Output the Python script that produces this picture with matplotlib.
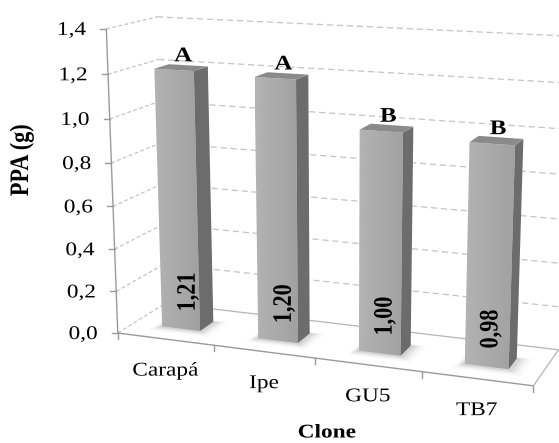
import numpy as np
import matplotlib
matplotlib.use("Agg")
import matplotlib.pyplot as plt
from matplotlib.patches import Polygon
from matplotlib.patheffects import AbstractPathEffect
from matplotlib.transforms import Affine2D

# ---- data -------------------------------------------------------------
clones = ["Carapá", "Ipe", "GU5", "TB7"]
ppa = [1.21, 1.20, 1.00, 0.98]
value_labels = ["1,21", "1,20", "1,00", "0,98"]
groups = ["A", "A", "B", "B"]
y_ticks = [0.0, 0.2, 0.4, 0.6, 0.8, 1.0, 1.2, 1.4]
y_ticklabels = ["0,0", "0,2", "0,4", "0,6", "0,8", "1,0", "1,2", "1,4"]
y_label = "PPA (g)"
x_label = "Clone"

# ---- canvas / style ---------------------------------------------------
W, H = 559, 443
Z_MAX = y_ticks[-1]
N = len(clones)
BAR_HALF_W = 0.2          # bar half width, in category units
BAR_DEPTH = (0.33, 0.63)  # bar extent along the depth axis
FONT = "Liberation Serif"
FS = 14
FS_ROT = 16
FS_LETTER = 15
STRETCH = 1.2
GRID = "#C4C4C4"
AXIS = "#9A9A9A"

# Placement of the 3-D plot box on the canvas:
# world (category, depth, value) -> pixel position
FRAME_ANCHORS = [
    ((0, 0, 0.0), (118, 332)),
    ((0, 0, 0.8), (112, 163)),
    ((0, 0, 1.4), (105, 30)),
    ((0, 1, 0.0), (165, 305)),
    ((0, 1, 1.4), (158, 16)),
    ((1, 0, 0.0), (213, 344)),
    ((2, 0, 0.0), (316, 358)),
    ((3, 0, 0.0), (423, 372)),
    ((4, 0, 0.0), (533, 387)),
    ((4, 1, 0.0), (558, 349)),
    ((4, 1, 1.4), (570, 36)),
]


def fit_camera(anchors):
    rows, rhs = [], []
    for (X, Y, Z), (u, v) in anchors:
        rows.append([X, Y, Z, 1, 0, 0, 0, 0, -u * X, -u * Y, -u * Z]); rhs.append(u)
        rows.append([0, 0, 0, 0, X, Y, Z, 1, -v * X, -v * Y, -v * Z]); rhs.append(v)
    p, *_ = np.linalg.lstsq(np.array(rows, float), np.array(rhs, float), rcond=None)
    return np.append(p, 1.0).reshape(3, 4)


P = fit_camera(FRAME_ANCHORS)


def project(pts):
    pts = np.atleast_2d(np.asarray(pts, float))
    h = np.c_[pts, np.ones(len(pts))] @ P.T
    return h[:, :2] / h[:, 2:3]


class HStretch(AbstractPathEffect):
    """Widen glyphs horizontally about the text anchor."""

    def __init__(self, text, sx):
        super().__init__()
        self.text, self.sx = text, sx

    def draw_path(self, renderer, gc, tpath, affine, rgbFace=None):
        ax_, _ = self.text.get_transform().transform(self.text.get_position())
        t = Affine2D().translate(-ax_, 0).scale(self.sx, 1.0).translate(ax_, 0)
        renderer.draw_path(gc, tpath, affine + t, rgbFace)


fig = plt.figure(figsize=(W / 100, H / 100), dpi=100)
ax = fig.add_axes([0, 0, 1, 1])
ax.set_xlim(0, W)
ax.set_ylim(H, 0)
ax.axis("off")


def label(x, y, s, bold=False, size=FS, **kw):
    t = ax.text(x, y, s, fontfamily=FONT, fontsize=size,
                fontweight="bold" if bold else "normal", color="black", **kw)
    t.set_path_effects([HStretch(t, STRETCH)])
    return t


def seg(a, b, **kw):
    p = project([a, b])
    ax.plot(p[:, 0], p[:, 1], solid_capstyle="butt", **kw)


# ---- walls: gridlines --------------------------------------------------
for z in y_ticks[1:]:
    seg((0, 0, z), (0, 1, z), color=GRID, lw=0.9, ls=(0, (3, 2)), zorder=1)
    seg((0, 1, z), (N, 1, z), color=GRID, lw=0.9, ls=(0, (5, 3)), zorder=1)

# ---- floor ------------------------------------------------------------
floor = project([(0, 0, 0), (N, 0, 0), (N, 1, 0), (0, 1, 0)])
ax.add_patch(Polygon(floor, closed=True, fc="white", ec="none", zorder=2))
seg((0, 0, 0), (0, 1, 0), color=GRID, lw=0.9, ls=(0, (3, 2)), zorder=3)
seg((0, 1, 0), (N, 1, 0), color="#B5B5B5", lw=0.9, zorder=3)
seg((N, 0, 0), (N, 1, 0), color="#B5B5B5", lw=0.9, zorder=3)
seg((0, 0, 0), (N, 0, 0), color=AXIS, lw=1.0, zorder=3)

# category ticks along the front edge
for i in range(N + 1):
    (px, py), = project([(i, 0, 0)])
    ax.plot([px, px], [py, py + 6], color=AXIS, lw=1.0, zorder=3)

# value axis with ticks
seg((0, 0, 0), (0, 0, Z_MAX), color=AXIS, lw=1.0, zorder=3)
for z, lab in zip(y_ticks, y_ticklabels):
    (px, py), = project([(0, 0, z)])
    ax.plot([px - 6, px], [py, py], color=AXIS, lw=1.0, zorder=3)
    label(px - 20, py + 6, lab, ha="right", va="baseline", zorder=6)


# ---- bars -------------------------------------------------------------
def box_faces(x0, x1, y0, y1, z0, z1):
    return {
        "front": [(x0, y0, z0), (x1, y0, z0), (x1, y0, z1), (x0, y0, z1)],
        "back": [(x1, y1, z0), (x0, y1, z0), (x0, y1, z1), (x1, y1, z1)],
        "left": [(x0, y1, z0), (x0, y0, z0), (x0, y0, z1), (x0, y1, z1)],
        "right": [(x1, y0, z0), (x1, y1, z0), (x1, y1, z1), (x1, y0, z1)],
        "top": [(x0, y0, z1), (x1, y0, z1), (x1, y1, z1), (x0, y1, z1)],
    }


def signed_area(p):
    x, y = p[:, 0], p[:, 1]
    return 0.5 * np.sum(x * np.roll(y, -1) - np.roll(x, -1) * y)


FACE_COLORS = {"right": "#6C6C6C", "top": "#8A8A8A", "left": "#8A8A8A", "back": "#8A8A8A"}
grad = np.linspace(0.70, 0.63, 64)[None, :]

y0, y1 = BAR_DEPTH
for i, v in enumerate(ppa):
    cx = i + 0.5
    x0, x1 = cx - BAR_HALF_W, cx + BAR_HALF_W

    # soft shadow on the floor
    for k, e in enumerate([0.14, 0.10, 0.07, 0.04]):
        fp = project([(x0 - e * 0.5, y0 - e, 0), (x1 + e, y0 - e, 0),
                      (x1 + e, y1 + e * 0.3, 0), (x0 - e * 0.5, y1 + e * 0.3, 0)])
        ax.add_patch(Polygon(fp, closed=True, fc="black", ec="none",
                             alpha=0.022 + 0.014 * k, zorder=4))

    faces = box_faces(x0, x1, y0, y1, 0.0, v)
    ref = np.sign(signed_area(project(faces["front"])))
    for name, verts in faces.items():
        poly = project(verts)
        if np.sign(signed_area(poly)) != ref:
            continue
        if name == "front":
            patch = Polygon(poly, closed=True, fc="none", ec="none", zorder=5)
            ax.add_patch(patch)
            im = ax.imshow(grad, cmap="gray", vmin=0, vmax=1, aspect="auto",
                           extent=(poly[:, 0].min(), poly[:, 0].max(),
                                   poly[:, 1].max(), poly[:, 1].min()),
                           zorder=5, interpolation="bilinear")
            im.set_clip_path(patch)
        else:
            ax.add_patch(Polygon(poly, closed=True, fc=FACE_COLORS[name],
                                 ec="none", zorder=5))

    # group letter above the bar, value inside near the base
    (tx, ty), = project([(cx, 0.5, v)])
    label(tx + 1, ty - 11, groups[i], bold=True, size=FS_LETTER,
          ha="center", va="center", zorder=7)
    (bx, by), = project([(cx, 0.5, 0.0)])
    label(bx, by - 12, value_labels[i], bold=True, size=FS_ROT, rotation=90,
          rotation_mode="anchor", ha="left", va="center", zorder=7)

    # category label under the front edge
    (fx, fy), = project([(cx, 0, 0)])
    label(fx, fy + 32, clones[i], ha="center", va="center", zorder=6)

# ---- axis titles ------------------------------------------------------
label(327, 433, x_label, bold=True, ha="center", va="center")
label(22, 160, y_label, bold=True, size=16, rotation=90, ha="center", va="center")

fig.savefig("out.png", dpi=100, facecolor="white")
